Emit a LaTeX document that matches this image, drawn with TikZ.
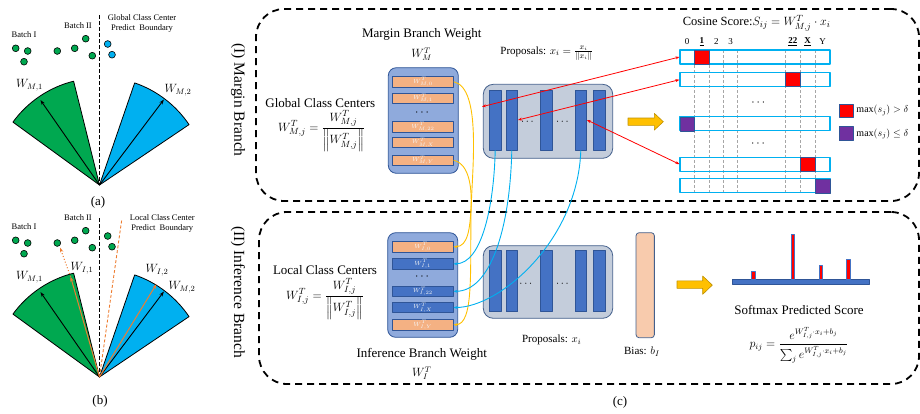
\documentclass[tikz,border=0pt]{standalone}
\usepackage{fontspec}
\setmainfont{Liberation Serif}
\usepackage{amsmath}
\usetikzlibrary{arrows.meta}
\definecolor{secgreen}{RGB}{0,168,80}
\definecolor{seccyan}{RGB}{0,176,240}
\definecolor{arrorange}{RGB}{237,125,49}
\definecolor{arryellow}{RGB}{255,192,0}
\definecolor{arrytrim}{RGB}{191,144,0}
\definecolor{stackfill}{RGB}{143,170,220}
\definecolor{stackedge}{RGB}{47,85,151}
\definecolor{propfill}{RGB}{196,205,219}
\definecolor{propedge}{RGB}{68,96,140}
\definecolor{barblue}{RGB}{68,114,196}
\definecolor{barsalmon}{RGB}{244,177,131}
\definecolor{biasfill}{RGB}{248,203,173}
\definecolor{cellpurple}{RGB}{112,48,160}
\tikzset{
  lbl/.style={font=\fontsize{13}{15}\selectfont,inner sep=0pt},
  sublbl/.style={font=\fontsize{11}{13}\selectfont,inner sep=0pt},
  wlbl/.style={font=\fontsize{12}{14}\selectfont,inner sep=0pt},
  tinylbl/.style={font=\fontsize{8.5}{10.7}\selectfont,inner sep=0pt,align=center},
  branchbox/.style={draw,line width=1.8pt,dash pattern=on 7pt off 5pt,rounded corners=28pt},
  wstack/.style={draw=stackedge,fill=stackfill,line width=0.8pt,rounded corners=8pt},
  wsalmon/.style={draw=stackedge,fill=barsalmon,line width=0.8pt,minimum width=60.6pt,minimum height=10.6pt,inner sep=0pt,text=white!92!gray,font=\fontsize{6}{6}\selectfont},
  wblue/.style={wsalmon,fill=barblue},
  pbox/.style={draw=propedge,fill=propfill,line width=0.8pt,rounded corners=10pt},
  pbar/.style={draw=stackedge,fill=barblue,line width=0.6pt,minimum width=11.7pt,inner sep=0pt},
  scorerow/.style={draw=seccyan,line width=1.1pt,minimum width=150pt,minimum height=14pt,inner sep=0pt},
  redarr/.style={red,line width=0.8pt,{Stealth[length=4pt,width=3pt]}-{Stealth[length=4pt,width=3pt]}},
  yellink/.style={arryellow,line width=0.9pt,-{Stealth[length=4pt,width=3pt]}},
  cyanlink/.style={seccyan,line width=0.9pt,-{Stealth[length=4pt,width=3pt]}},
  fatarrow/.style={draw=arrytrim,fill=arryellow,line width=0.6pt},
}
\begin{document}
\begin{tikzpicture}[x=1pt,y=-1pt,>={Stealth[length=5pt,width=3.5pt]},line join=round]
\useasboundingbox (0,0) rectangle (920,413);
% (a) and (b): class centre fans
\foreach \oy in {0,192}{
  \filldraw[fill=secgreen,line width=0.8pt] (99.5,185+\oy) -- ++(-104:107) arc[start angle=-104,end angle=-144,radius=107] -- cycle;
  \filldraw[fill=seccyan,line width=0.8pt] (99.5,185+\oy) -- ++(-34:108) arc[start angle=-34,end angle=-71,radius=108] -- cycle;
  \draw[->,line width=0.9pt] (99.5,185+\oy) -- ++(-124.8:103.5);
  \draw[->,line width=0.9pt] (99.5,185+\oy) -- ++(-53:107);
  \foreach \dx/\dy in {15.7/48.3,27.7/51,24/61.7,57.3/51,74.7/48.3,85.7/38.7,92.3/55.7}
    \filldraw[fill=secgreen,line width=0.6pt] (\dx,\dy+\oy) circle(3.4);
  \node[tinylbl] at (24,36+\oy-1) {Batch I};
  \node[tinylbl] at (78,27+\oy-1) {Batch II};
  \node[wlbl] at (29.5,86+\oy-1) {$W_{M,1}$};
}
\filldraw[fill=seccyan,line width=0.6pt] (107.7,44) circle(3.4) (112,54.7) circle(3.4);
\filldraw[fill=secgreen,line width=0.6pt] (107.7,236) circle(3.4) (112,246.7) circle(3.4);
\draw[line width=0.9pt,dash pattern=on 3.5pt off 2.5pt] (99.5,15) -- (99.5,185);
\draw[line width=0.9pt,dash pattern=on 3.5pt off 2.5pt] (99.5,218) -- (99.5,377);
\node[tinylbl] at (142,23.5) {Global Class Center\\Predict\ \ Boundary};
\node[wlbl] at (178,90) {$W_{M,2}$};
\node[tinylbl] at (162.3,223.6) {Local Class Center\\Predict\ \ Boundary};
\draw[arrorange,line width=0.9pt,dash pattern=on 3pt off 2pt] (99.5,377) -- (121.7,220);
\draw[arrorange,line width=1pt,->] (99.5,377) -- ++(-106.1:104.4) coordinate (wi1);
\draw[arrorange,line width=1pt,->] (99.5,377) -- ++(-58.5:109);
\draw[arrorange,line width=1pt,dotted,->] (wi1) -- (60,247.5);
\node[wlbl] at (82,268.3) {$W_{I,1}$};
\node[wlbl] at (157,270) {$W_{I,2}$};
\node[wlbl] at (182,287.3) {$W_{M,2}$};
\node[lbl] at (98,202) {(a)};
\node[lbl] at (100,401.7) {(b)};
\node[lbl] at (620,402.7) {(c)};
% (c) branch frames
\node[branchbox,minimum width=663pt,minimum height=192pt] (mbox) at (587.5,105) {};
\node[branchbox,minimum width=660pt,minimum height=172pt] (ibox) at (589,298) {};
\node[font=\fontsize{15.5}{17}\selectfont,inner sep=0pt,rotate=-90] at (238,100) {(I) Margin Branch};
\node[font=\fontsize{15.5}{17}\selectfont,inner sep=0pt,rotate=-90] at (238,292) {(II) Inference Branch};
% margin branch weights
\node[lbl] (mtitle) at (421.7,34.5) {Margin Branch Weight};
\node[font=\fontsize{12}{14}\selectfont,inner sep=0pt] at (421.7,54) {$W_M^T$};
\node[wstack,minimum width=70pt,minimum height=105.6pt] (mstack) at (423.3,120.5) {};
\node[wsalmon] (m0) at (423,81.7) {$W^T_{M,0}$};
\node[wsalmon] (m1) at (423,98.3) {$W^T_{M,1}$};
\node[lbl] at (423,113) {$\cdots$};
\node[wsalmon] (m22) at (423,127) {$W^T_{M,22}$};
\node[wsalmon] (mX) at (423,142.5) {$W^T_{M,X}$};
\node[wsalmon] (mY) at (423,160.3) {$W^T_{M,Y}$};
\node[lbl] (gcc) at (320.3,102.7) {Global Class Centers};
\node[lbl] at (321.7,131) {$W^T_{M,j}=\dfrac{W^T_{M,j}}{\left\|W^T_{M,j}\right\|}$};
% margin branch proposals
\node[sublbl] at (546.7,53.3) {Proposals: $x_i=\frac{x_i}{\|x_i\|}$};
\node[pbox,minimum width=129.4pt,minimum height=74pt] (tprop) at (548,121.3) {};
\foreach \n/\px in {1/495.2,2/511.8,3/546.5,4/580.8,5/599}
  \node[pbar,minimum height=60pt] (tp\n) at (\px,120) {};
\node[sublbl] at (528.3,122) {$\cdots$};
\node[sublbl] at (563.3,122) {$\cdots$};
\draw[fatarrow] (628,118) -- (654.3,118) -- (654.3,113.3) -- (663.3,121.7) -- (654.3,130.1) -- (654.3,125.4) -- (628,125.4) -- cycle;
% cosine score grid
\node[font=\fontsize{12.5}{14}\selectfont,inner sep=0pt] at (756.7,23.3) {Cosine Score:$S_{ij}=W^T_{M,j}\cdot x_i$};
\foreach \cx/\ct in {687.2/0,701.8/\underline{\textbf{1}},716.3/2,730.5/3,792.8/\underline{\textbf{22}},807.5/\underline{\textbf{X}},822.5/Y}
  \node[font=\fontsize{9}{10}\selectfont,inner sep=0pt] at (\cx,41.7) {\ct};
\foreach \cx in {694.3,709.3,723.3,737.7,785.7,800,815}
  \draw[gray!70,line width=0.7pt,dash pattern=on 3pt off 2pt] (\cx,50) -- (\cx,192.7);
\foreach \n/\ry in {1/57,2/79.7,3/123.8,4/164.2,5/185.9}
  \node[scorerow] (r\n) at (755,\ry) {};
\filldraw[fill=red,draw=stackedge,line width=0.6pt] (694.3,50) rectangle (709.3,64);
\filldraw[fill=red,draw=stackedge,line width=0.6pt] (785.7,72.7) rectangle (800,86.7);
\filldraw[fill=cellpurple,draw=stackedge,line width=0.6pt] (680,116.8) rectangle (694.3,130.8);
\filldraw[fill=red,draw=stackedge,line width=0.6pt] (800,157.2) rectangle (815,171.2);
\filldraw[fill=cellpurple,draw=stackedge,line width=0.6pt] (815,178.9) rectangle (830,192.9);
\node[lbl] at (759.3,103) {$\cdots$};
\node[lbl] at (759,144) {$\cdots$};
\filldraw[fill=red,draw=stackedge,line width=0.6pt] (839,104) rectangle (853.3,117.3);
\filldraw[fill=cellpurple,draw=stackedge,line width=0.6pt] (839,126.5) rectangle (853.3,140.5);
\node[font=\fontsize{10}{12}\selectfont,inner sep=0pt] at (882.5,110.5) {$\max(s_j)>\delta$};
\node[font=\fontsize{10}{12}\selectfont,inner sep=0pt] at (882.5,134) {$\max(s_j)\le\delta$};
\coordinate (tp1tip) at (482,106.7);
\draw[redarr] (tp1tip) -- (r1.west);
\draw[redarr] (tp2.east) -- (r2.west);
\draw[redarr] (tp4.east) -- (r4.west);
% inference branch weights
\node[wstack,minimum width=70pt,minimum height=104.6pt] (istack) at (422.7,285) {};
\node[wsalmon] (i0) at (422.8,246.7) {$W^T_{I,0}$};
\node[wblue] (i1) at (422.8,263.8) {$W^T_{I,1}$};
\node[lbl] at (423,277) {$\cdots$};
\node[wblue] (i22) at (422.8,291.3) {$W^T_{I,22}$};
\node[wblue] (iX) at (422.8,307.5) {$W^T_{I,X}$};
\node[wsalmon] (iY) at (422.8,324.7) {$W^T_{I,Y}$};
\node[lbl] at (325,270) {Local Class Centers};
\node[lbl] at (325,299) {$W^T_{I,j}=\dfrac{W^T_{I,j}}{\left\|W^T_{I,j}\right\|}$};
\node[lbl] at (421.7,354.5) {Inference Branch Weight};
\node[font=\fontsize{12}{14}\selectfont,inner sep=0pt] at (421.7,373) {$W_I^T$};
% inference branch proposals and bias
\node[pbox,minimum width=129.4pt,minimum height=72.6pt] (bprop) at (548,282) {};
\foreach \n/\px in {1/495.2,2/511.8,3/546.5,4/580.8,5/599}
  \node[pbar,minimum height=61pt] (bp\n) at (\px,281.2) {};
\node[sublbl] at (526.7,284) {$\cdots$};
\node[sublbl] at (563.3,284) {$\cdots$};
\node[sublbl] at (551.7,340) {Proposals: $x_i$};
\node[draw=propedge,fill=biasfill,rounded corners=3pt,line width=0.8pt,minimum width=18.3pt,minimum height=105pt,inner sep=0pt] (bias) at (645.2,285.2) {};
\node[sublbl] at (642,351.7) {Bias: $b_I$};
\draw[fatarrow] (677,280.8) -- (702.7,280.8) -- (702.7,276) -- (712.3,285.1) -- (702.7,294.3) -- (702.7,288.4) -- (677,288.4) -- cycle;
% softmax scores
\filldraw[fill=barblue,draw=stackedge,line width=0.4pt] (731.7,279.3) rectangle (869,284.3);
\foreach \hx/\hy in {753.3/271,792.7/234,821/265.7,848.3/259}
  \filldraw[fill=red,draw=barblue,line width=0.5pt] (\hx-1.6,\hy) rectangle (\hx+1.6,279.3);
\node[lbl] at (799,309.5) {Softmax Predicted Score};
\node[font=\fontsize{12}{14}\selectfont,inner sep=0pt] at (799,345.5) {$p_{ij}=\dfrac{e^{W^T_{I,j}\cdot x_i+b_j}}{\sum_j e^{W^T_{I,j}\cdot x_i+b_j}}$};
% links between branches
\draw[yellink] (m0.east) .. controls (482,88) and (472,170) .. (471,212) .. controls (470,270) and (474,324.7) .. (iY.east);
\draw[yellink] (mY.east) .. controls (470,164) and (472,190) .. (471,208) .. controls (470,228) and (468,246.7) .. (i0.east);
\draw[cyanlink] (tp1.south) .. controls (494,205) and (482,263.8) .. (i1.east);
\draw[cyanlink] (tp2.south) .. controls (510,230) and (490,291.3) .. (i22.east);
\draw[cyanlink] (tp4.south) .. controls (578,240) and (500,307.5) .. (iX.east);
\end{tikzpicture}
\end{document}
